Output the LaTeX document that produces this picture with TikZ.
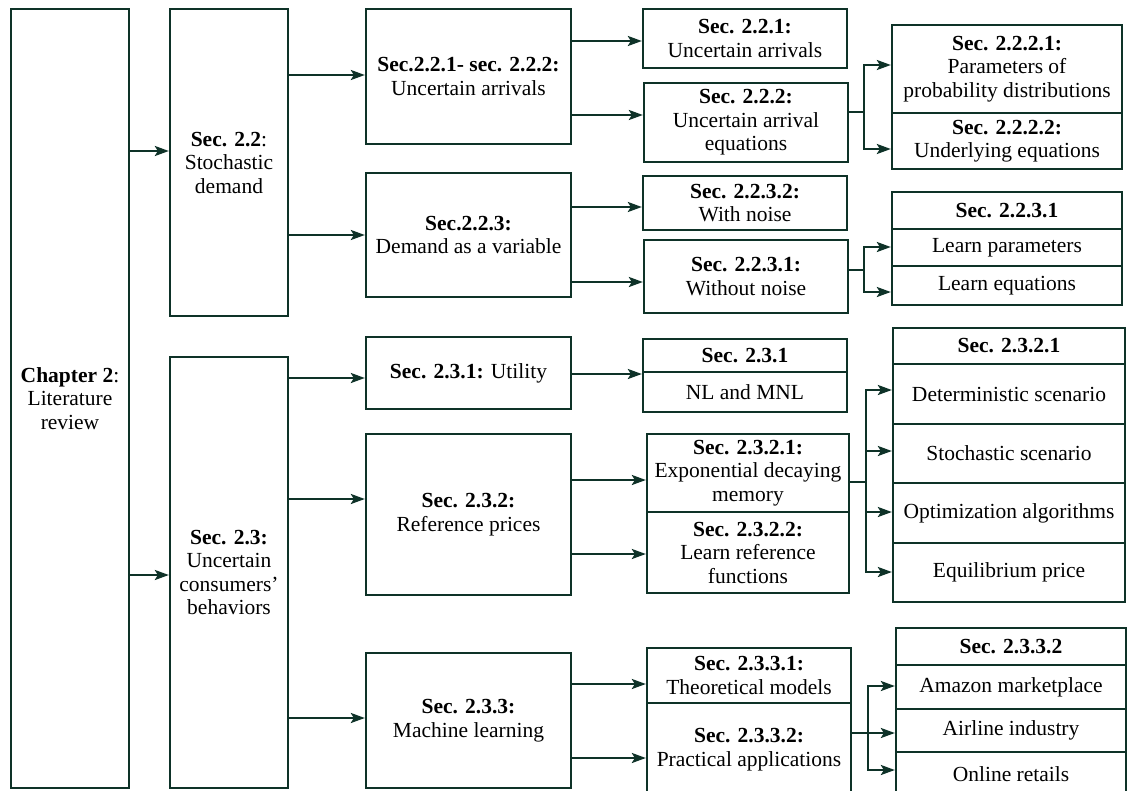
\documentclass[tikz,border=0pt]{standalone}
\usepackage{fontspec}
\setmainfont{Liberation Serif}
\usetikzlibrary{arrows.meta}
\definecolor{lineclr}{RGB}{14,50,40}
\begin{document}
\begin{tikzpicture}[x=1pt,y=-1pt,
  box/.style={draw=lineclr, line width=2.3pt, rectangle, inner sep=0pt, align=center,
    font=\fontsize{21.5}{23.5}\selectfont, text=black},
  conn/.style={draw=lineclr, line width=2.3pt},
  arr/.style={conn, -{Stealth[length=14pt,width=10pt,inset=3pt]}}]
\useasboundingbox (0,0) rectangle (1127,790);

% column 1 and 2
\node[box, minimum width=118, minimum height=779] (ch) at (70,398.5) {\textbf{Chapter 2}:\\Literature\\review};
\node[box, minimum width=118, minimum height=307] (s22) at (229,162.5) {\textbf{Sec. 2.2}:\\Stochastic\\demand};
\node[box, minimum width=118, minimum height=431] (s23) at (229,572.5) {\textbf{Sec. 2.3:}\\Uncertain\\consumers’\\behaviors};

% column 3
\node[box, minimum width=205, minimum height=135] (s2212) at (468.5,76.5) {\textbf{Sec.2.2.1- sec. 2.2.2:}\\Uncertain arrivals};
\node[box, minimum width=205, minimum height=124] (s223) at (468.5,235) {\textbf{Sec.2.2.3:}\\Demand as a variable};
\node[box, minimum width=205, minimum height=72] (s231) at (468.5,373) {\textbf{Sec. 2.3.1:} Utility};
\node[box, minimum width=205, minimum height=161] (s232) at (468.5,514.5) {\textbf{Sec. 2.3.2:}\\Reference prices};
\node[box, minimum width=205, minimum height=135] (s233) at (468.5,720.5) {\textbf{Sec. 2.3.3:}\\Machine learning};

% column 4
\node[box, minimum width=204, minimum height=59] (s221) at (745,38.5) {\textbf{Sec. 2.2.1:}\\Uncertain arrivals};
\node[box, minimum width=204, minimum height=79] (s222) at (746,122.5) {\textbf{Sec. 2.2.2:}\\Uncertain arrival\\equations};
\node[box, minimum width=204, minimum height=54] (s2232) at (745,203) {\textbf{Sec. 2.2.3.2:}\\With noise};
\node[box, minimum width=204, minimum height=73] (s2231) at (746,276.5) {\textbf{Sec. 2.2.3.1:}\\Without noise};
\node[box, minimum width=204, minimum height=33] (h231) at (745,355.5) {\textbf{Sec. 2.3.1}};
\node[box, minimum width=204, minimum height=40] (nl) at (745,392) {NL and MNL};
\node[box, minimum width=202, minimum height=78] (s2321) at (748,473) {\textbf{Sec. 2.3.2.1:}\\Exponential decaying\\memory};
\node[box, minimum width=202, minimum height=81] (s2322) at (748,552.5) {\textbf{Sec. 2.3.2.2:}\\Learn reference\\functions};
\node[box, minimum width=204, minimum height=55] (s2331) at (749,675.5) {\textbf{Sec. 2.3.3.1:}\\Theoretical models};
\node[box, minimum width=204, minimum height=93] (s2332) at (749,749.5) {\textbf{Sec. 2.3.3.2:}\\Practical applications};

% column 5
\node[box, minimum width=230, minimum height=88] (s2221) at (1007,69) {\textbf{Sec. 2.2.2.1:}\\Parameters of\\probability distributions};
\node[box, minimum width=230, minimum height=56] (s2222) at (1007,141) {\textbf{Sec. 2.2.2.2:}\\Underlying equations};
\node[box, minimum width=230, minimum height=37] (h2231) at (1007,210.5) {\textbf{Sec. 2.2.3.1}};
\node[box, minimum width=230, minimum height=37] (lp) at (1007,247.5) {Learn parameters};
\node[box, minimum width=230, minimum height=39] (le) at (1007,285.5) {Learn equations};
\node[box, minimum width=232, minimum height=36] (h2321) at (1009,346) {\textbf{Sec. 2.3.2.1}};
\node[box, minimum width=232, minimum height=60] (ds) at (1009,394) {Deterministic scenario};
\node[box, minimum width=232, minimum height=59] (ss) at (1009,453.5) {Stochastic scenario};
\node[box, minimum width=232, minimum height=60] (oa) at (1009,513) {Optimization algorithms};
\node[box, minimum width=232, minimum height=59] (ep) at (1009,572.5) {Equilibrium price};
\node[box, minimum width=230, minimum height=37] (h2332) at (1011,646.5) {\textbf{Sec. 2.3.3.2}};
\node[box, minimum width=230, minimum height=44] (am) at (1011,687) {Amazon marketplace};
\node[box, minimum width=230, minimum height=43] (ai) at (1011,730.5) {Airline industry};
\node[box, minimum width=230, minimum height=44] (or) at (1011,774) {Online retails};

% heights at which connectors run
\foreach \lv in {41,65,75,112,115,149,151,207,235,247,270,282,292,374,378,390,451,480,482,499,512,554,572,575,684,686,718,733,758,770}
  \coordinate (L\lv) at (0,\lv);

% straight arrows
\draw[arr] (ch.east |- L151) -- (s22.west |- L151);
\draw[arr] (ch.east |- L575) -- (s23.west |- L575);
\draw[arr] (s22.east |- L75) -- (s2212.west |- L75);
\draw[arr] (s22.east |- L235) -- (s223.west |- L235);
\draw[arr] (s23.east |- L378) -- (s231.west |- L378);
\draw[arr] (s23.east |- L499) -- (s232.west |- L499);
\draw[arr] (s23.east |- L718) -- (s233.west |- L718);
\draw[arr] (s2212.east |- L41) -- (s221.west |- L41);
\draw[arr] (s2212.east |- L115) -- (s222.west |- L115);
\draw[arr] (s223.east |- L207) -- (s2232.west |- L207);
\draw[arr] (s223.east |- L282) -- (s2231.west |- L282);
\draw[arr] (s231.east |- L374) -- (h231.west |- L374);
\draw[arr] (s232.east |- L480) -- (s2321.west |- L480);
\draw[arr] (s232.east |- L554) -- (s2322.west |- L554);
\draw[arr] (s233.east |- L684) -- (s2331.west |- L684);
\draw[arr] (s233.east |- L758) -- (s2332.west |- L758);

% branching connectors
\coordinate (j1) at (864,112);
\draw[conn] (s222.east |- j1) -- (j1);
\draw[arr] (j1) |- (s2221.west |- L65);
\draw[arr] (j1) |- (s2222.west |- L149);

\coordinate (j2) at (864,270);
\draw[conn] (s2231.east |- j2) -- (j2);
\draw[arr] (j2) |- (lp.west |- L247);
\draw[arr] (j2) |- (le.west |- L292);

\coordinate (j3) at (866,482);
\draw[conn] (s2321.east |- j3) -- (j3);
\draw[arr] (j3) |- (ds.west |- L390);
\draw[arr] (j3) |- (ss.west |- L451);
\draw[arr] (j3) |- (oa.west |- L512);
\draw[arr] (j3) |- (ep.west |- L572);

\coordinate (j4) at (868,733);
\draw[conn] (s2332.east |- j4) -- (j4);
\draw[arr] (j4) |- (am.west |- L686);
\draw[arr] (j4) -- (ai.west |- L733);
\draw[arr] (j4) |- (or.west |- L770);
\end{tikzpicture}
\end{document}
